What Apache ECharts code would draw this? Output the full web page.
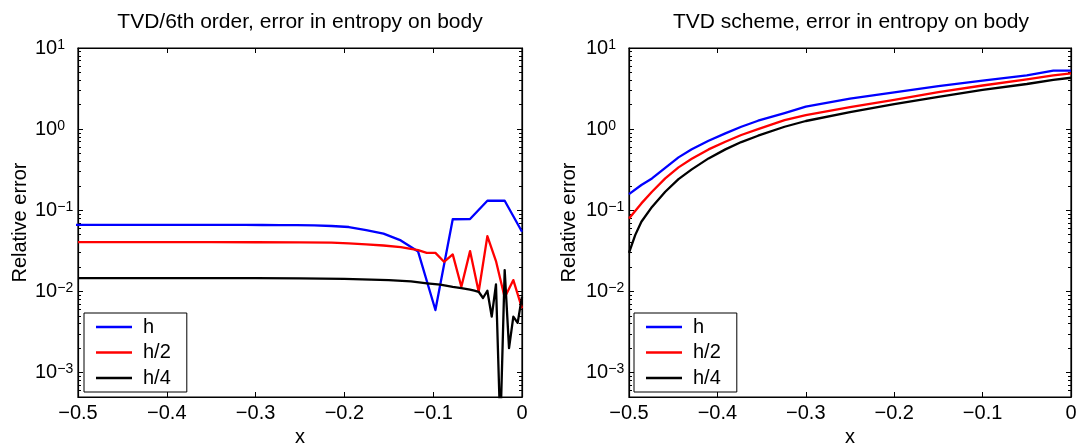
<!DOCTYPE html>
<html>
<head>
<meta charset="utf-8">
<script src="https://cdn.jsdelivr.net/npm/echarts@6/dist/echarts.min.js"></script>
<style>
  html, body { margin: 0; padding: 0; background: #fff; }
  #chart { width: 1079px; height: 443px; }
</style>
</head>
<body>
<div id="chart"></div>
<script>
// left panel: TVD/6th order
const leftXH = [-0.507, -0.4875, -0.468, -0.4485, -0.429, -0.4095, -0.39, -0.3705, -0.351, -0.3315, -0.312, -0.2925, -0.273, -0.2535, -0.234, -0.2145, -0.195, -0.1755, -0.156, -0.1365, -0.117, -0.0975, -0.078, -0.0585, -0.039, -0.0195, 0];
const leftH = [0.0660, 0.0660, 0.0660, 0.0660, 0.0660, 0.0660, 0.0660, 0.0660, 0.0660, 0.0660, 0.0660, 0.0659, 0.0658, 0.0655, 0.0650, 0.0640, 0.0622, 0.0570, 0.0515, 0.0425, 0.0310, 0.0059, 0.0775, 0.0780, 0.1310, 0.1310, 0.0543];

const leftXH2 = [-0.5, -0.45, -0.4, -0.35, -0.3, -0.25, -0.2145, -0.195, -0.1755, -0.156, -0.1365, -0.1268, -0.117, -0.1073, -0.0975, -0.0878, -0.078, -0.0683, -0.0585, -0.0488, -0.039, -0.0293, -0.0195, -0.00975, 0];
const leftH2 = [0.0405, 0.0405, 0.0405, 0.0405, 0.0404, 0.0403, 0.0400, 0.0392, 0.0380, 0.0368, 0.0352, 0.0338, 0.0322, 0.0299, 0.0299, 0.0232, 0.0286, 0.0114, 0.0314, 0.0099, 0.0481, 0.0237, 0.0084, 0.0138, 0.0062];

const leftXH4 = [-0.5, -0.45, -0.4, -0.35, -0.3, -0.25, -0.2, -0.15, -0.125, -0.107, -0.092, -0.078, -0.0683, -0.0585, -0.0536, -0.0488, -0.0439, -0.039, -0.0341, -0.0293, -0.0244, -0.0195, -0.0146, -0.00975, -0.0049, 0];
const leftH4 = [0.0146, 0.0146, 0.0146, 0.0146, 0.0146, 0.0145, 0.0143, 0.0138, 0.0133, 0.0126, 0.0121, 0.0114, 0.0110, 0.0105, 0.0102, 0.0099, 0.0083, 0.0102, 0.0049, 0.0122, 0.0002, 0.0183, 0.0020, 0.0049, 0.0041, 0.0086];

// right panel: TVD scheme
const rightX = [-0.5, -0.486, -0.474, -0.459, -0.444, -0.429, -0.41, -0.391, -0.373, -0.354, -0.324, -0.3, -0.25, -0.2, -0.15, -0.1, -0.05, -0.02, 0];
const rightH = [0.158, 0.205, 0.247, 0.334, 0.449, 0.564, 0.72, 0.887, 1.07, 1.27, 1.58, 1.89, 2.37, 2.84, 3.38, 3.95, 4.6, 5.25, 5.25];
const rightH2 = [0.0794, 0.1216, 0.169, 0.247, 0.338, 0.431, 0.563, 0.70, 0.846, 1.0, 1.29, 1.49, 1.87, 2.29, 2.85, 3.45, 4.1, 4.6, 4.87];
const rightXH4 = [-0.5, -0.493, -0.486, -0.474, -0.459, -0.444, -0.429, -0.41, -0.391, -0.373, -0.354, -0.324, -0.3, -0.25, -0.2, -0.15, -0.1, -0.05, -0.02, 0];
const rightH4 = [0.0299, 0.0494, 0.0722, 0.110, 0.169, 0.2425, 0.319, 0.436, 0.563, 0.693, 0.83, 1.07, 1.26, 1.62, 2.04, 2.5, 3.05, 3.6, 4.05, 4.3];

const titles = ['TVD/6th order, error in entropy on body', 'TVD scheme, error in entropy on body'];
const seriesNames = ['h', 'h/2', 'h/4'];
const seriesColors = ['#0000ff', '#ff0000', '#000000'];
const yMajorTicks = [0.001, 0.01, 0.1, 1, 10];
const yMinorTicks = [0.0006, 0.0007, 0.0008, 0.0009,
  0.002, 0.003, 0.004, 0.005, 0.006, 0.007, 0.008, 0.009,
  0.02, 0.03, 0.04, 0.05, 0.06, 0.07, 0.08, 0.09,
  0.2, 0.3, 0.4, 0.5, 0.6, 0.7, 0.8, 0.9,
  2, 3, 4, 5, 6, 7, 8, 9];

const FONT = "'Liberation Sans', Arial, Helvetica, sans-serif";
const grids = [
  { left: 78, top: 48, width: 444, height: 349 },
  { left: 629, top: 48, width: 442, height: 349 }
];

function pairs(xs, ys) {
  return xs.map((x, i) => [x, ys[i]]);
}

function xFmt(v) {
  if (Math.abs(v) < 1e-9) return '0';
  return v.toFixed(1).replace('-', '\u2212');
}
function yFmt(v) {
  const e = Math.round(Math.log10(v));
  return '{b|10}{e|' + (e < 0 ? '\u2212' + (-e) : e) + '}';
}

const xAxes = [];
const yAxes = [];
grids.forEach((g, gi) => {
  ['bottom', 'top'].forEach(pos => {
    xAxes.push({
      type: 'value', gridIndex: gi, position: pos, offset: 0,
      min: -0.5, max: 0, interval: 0.1,
      name: pos === 'bottom' ? 'x' : '',
      nameLocation: 'middle', nameGap: 26,
      nameTextStyle: { fontSize: 20, fontFamily: FONT, color: '#000' },
      axisLine: { show: true, onZero: false, lineStyle: { color: '#000', width: 1.2 } },
      axisTick: { show: true, inside: true, length: 5, lineStyle: { color: '#000' } },
      axisLabel: { show: pos === 'bottom', margin: 6, fontSize: 20, fontFamily: FONT, color: '#000', formatter: xFmt },
      splitLine: { show: false }
    });
  });
  ['left', 'right'].forEach(pos => {
    yAxes.push({
      type: 'log', logBase: 10, gridIndex: gi, position: pos, offset: 0,
      min: 0.0005, max: 10,
      name: pos === 'left' ? 'Relative error' : '',
      nameLocation: 'middle', nameGap: gi === 0 ? 48 : 50, nameRotate: 90,
      nameTextStyle: { fontSize: 20, fontFamily: FONT, color: '#000' },
      axisLine: { show: true, onZero: false, lineStyle: { color: '#000', width: 1.2 } },
      axisTick: { show: true, inside: true, length: 5, customValues: yMajorTicks, lineStyle: { color: '#000' } },
      axisLabel: {
        show: pos === 'left', customValues: yMajorTicks, margin: 43, align: 'left',
        formatter: yFmt,
        rich: {
          b: { fontSize: 20, fontFamily: FONT, color: '#000', lineHeight: 20, padding: [10, 0, 0, 0], verticalAlign: 'bottom' },
          e: { fontSize: 14, fontFamily: FONT, color: '#000', lineHeight: 14, verticalAlign: 'top' }
        }
      },
      splitLine: { show: false }
    });
  });
  ['left', 'right'].forEach(pos => {
    yAxes.push({
      type: 'log', logBase: 10, gridIndex: gi, position: pos, offset: 0,
      min: 0.0005, max: 10,
      axisLine: { show: false, onZero: false },
      axisTick: { show: true, inside: true, length: 3, customValues: yMinorTicks, lineStyle: { color: '#000' } },
      axisLabel: { show: false },
      splitLine: { show: false }
    });
  });
});

const panelData = [
  [pairs(leftXH, leftH), pairs(leftXH2, leftH2), pairs(leftXH4, leftH4)],
  [pairs(rightX, rightH), pairs(rightX, rightH2), pairs(rightXH4, rightH4)]
];

const series = [];
panelData.forEach((lines, gi) => {
  lines.forEach((d, si) => {
    series.push({
      name: seriesNames[si], type: 'line',
      xAxisIndex: gi * 2, yAxisIndex: gi * 4,
      data: d, showSymbol: false, symbol: 'none', clip: true,
      lineStyle: { color: seriesColors[si], width: 2.3, join: 'round' },
      itemStyle: { color: seriesColors[si] },
      z: 3
    });
  });
});

const legendCommon = {
  orient: 'vertical', top: 313,
  data: seriesNames, icon: 'rect', itemWidth: 36, itemHeight: 2.5, itemGap: 5.5,
  padding: [4, 16, 4, 12],
  backgroundColor: '#fff', borderColor: '#000', borderWidth: 1, borderRadius: 0,
  selectedMode: false, z: 10,
  textStyle: { fontSize: 20, fontFamily: FONT, color: '#000', padding: [0, 0, 0, 6] }
};

const chart = echarts.init(document.getElementById('chart'), null, { renderer: 'canvas' });
chart.setOption({
  backgroundColor: '#fff',
  animation: false,
  title: [
    { text: titles[0], left: 300, top: 12, textAlign: 'center', padding: 0,
      textStyle: { fontSize: 21, fontWeight: 'normal', fontFamily: FONT, color: '#000' } },
    { text: titles[1], left: 851, top: 12, textAlign: 'center', padding: 0,
      textStyle: { fontSize: 21, fontWeight: 'normal', fontFamily: FONT, color: '#000' } }
  ],
  legend: [
    Object.assign({ left: 84 }, legendCommon),
    Object.assign({ left: 634 }, legendCommon)
  ],
  grid: grids.map(g => Object.assign({
    containLabel: false, outerBoundsMode: 'none',
    show: true, borderColor: '#000', borderWidth: 1.2, backgroundColor: 'transparent'
  }, g)),
  xAxis: xAxes,
  yAxis: yAxes,
  series: series
});
</script>
</body>
</html>
